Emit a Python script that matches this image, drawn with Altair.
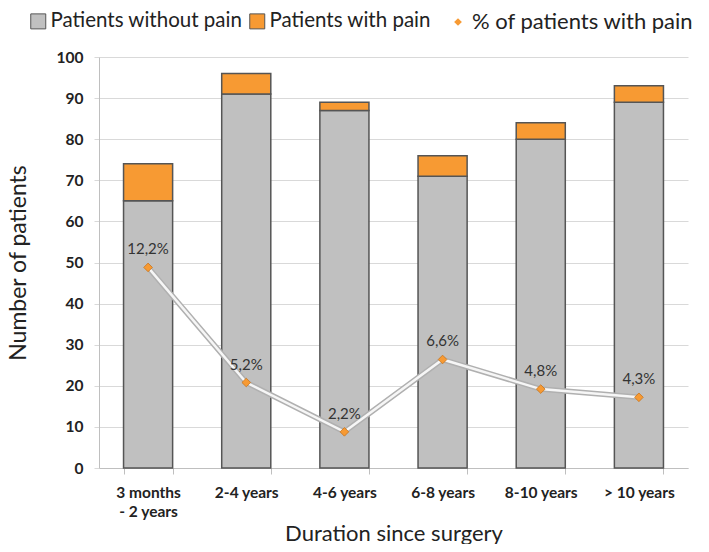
import altair as alt
import pandas as pd

categories = ["3 months - 2 years", "2-4 years", "4-6 years", "6-8 years", "8-10 years", "> 10 years"]
without_pain = [65, 91, 87, 71, 80, 89]
with_pain = [9, 5, 2, 5, 4, 4]
pct_pain = [12.2, 5.2, 2.2, 6.6, 4.8, 4.3]
pct_labels = ["12,2%", "5,2%", "2,2%", "6,6%", "4,8%", "4,3%"]

S1 = "Patients without pain"
S2 = "Patients with pain"
S3 = "% of patients with pain"
FONT = "Lato"

rows = []
for c, a, b in zip(categories, without_pain, with_pain):
    rows.append({"cat": c, "series": S1, "n": a, "ord": 0})
    rows.append({"cat": c, "series": S2, "n": b, "ord": 1})
bars_df = pd.DataFrame(rows)
line_df = pd.DataFrame({"cat": categories, "pct": pct_pain, "label": pct_labels, "series": [S3] * 6})

x_enc = alt.X(
    "cat:N",
    sort=categories,
    title="Duration since surgery",
    scale=alt.Scale(paddingInner=0.5, paddingOuter=0.25),
    axis=alt.Axis(
        labelAngle=0,
        labelFont=FONT,
        labelFontWeight="bold",
        labelFontSize=15.5,
        labelColor="#222222",
        labelPadding=11,
        labelLineHeight=19,
        labelExpr="datum.value == '3 months - 2 years' ? ['3 months', '- 2 years'] : datum.value",
        tickBand="extent",
        tickSize=6,
        tickColor="#bfbfbf",
        domainColor="#bfbfbf",
        titleFont=FONT,
        titleFontSize=22,
        titleFontWeight="normal",
        titleColor="#222222",
        titleBaseline="alphabetic",
        titleY=72,
        grid=False,
    ),
)

bars = alt.Chart(bars_df).mark_bar(stroke="#555555", strokeWidth=1.5).encode(
    x=x_enc,
    y=alt.Y(
        "n:Q",
        stack="zero",
        title="Number of patients",
        scale=alt.Scale(domain=[0, 100]),
        axis=alt.Axis(
            values=list(range(0, 101, 10)),
            labelFont=FONT,
            labelFontWeight="bold",
            labelFontSize=15.5,
            labelColor="#222222",
            labelPadding=11,
            tickSize=5,
            tickColor="#d9d9d9",
            domainColor="#bfbfbf",
            gridColor="#d9d9d9",
            titleFont=FONT,
            titleFontSize=23,
            titleFontWeight="normal",
            titleColor="#222222",
            titlePadding=26,
        ),
    ),
    color=alt.Color(
        "series:N",
        scale=alt.Scale(domain=[S1, S2], range=["#c0c0c0", "#f79a33"]),
        legend=alt.Legend(
            title=None,
            orient="none",
            legendX=-71,
            legendY=-46,
            direction="horizontal",
            symbolType="square",
            symbolSize=225,
            symbolStrokeColor="#555555",
            symbolStrokeWidth=1,
            labelFont=FONT,
            labelFontSize=20.5,
            labelColor="#222222",
            labelLimit=400,
            labelOffset=2,
            columnPadding=4,
        ),
    ),
    order=alt.Order("ord:Q", sort="ascending"),
)

y2 = alt.Y("pct:Q", scale=alt.Scale(domain=[0, 25]), axis=None)

line_shadow = alt.Chart(line_df).mark_line(color="#b0b0b0", strokeWidth=5.5).encode(
    x=alt.X("cat:N", sort=categories), y=y2
)
line_core = alt.Chart(line_df).mark_line(color="#f6f6f6", strokeWidth=2.5).encode(
    x=alt.X("cat:N", sort=categories), y=y2
)
points = alt.Chart(line_df).mark_point(
    shape="diamond", filled=True, size=75, stroke="#c8741c", strokeWidth=0.8, opacity=1
).encode(
    x=alt.X("cat:N", sort=categories),
    y=y2,
    color=alt.Color(
        "series:N",
        scale=alt.Scale(domain=[S3], range=["#f79a33"]),
        legend=alt.Legend(
            title=None,
            orient="none",
            legendX=348,
            legendY=-46,
            symbolType="diamond",
            symbolSize=60,
            symbolStrokeWidth=0,
            labelFont=FONT,
            labelFontSize=22,
            labelColor="#222222",
            labelLimit=400,
            labelOffset=3,
        ),
    ),
)
texts = alt.Chart(line_df).mark_text(
    font=FONT, fontSize=15, color="#333333", baseline="bottom", dy=-10
).encode(x=alt.X("cat:N", sort=categories), y=y2, text="label:N")

chart = (
    alt.layer(bars, line_shadow, line_core, points, texts)
    .resolve_scale(y="independent", color="independent")
    .properties(
        width=589,
        height=411,
        padding={"left": 91, "top": 49, "right": 13, "bottom": 76},
        autosize=alt.AutoSizeParams(type="none"),
    )
    .configure_view(stroke=None)
    .configure_axis(gridColor="#d9d9d9")
)

chart.save("out.html", embed_options={"renderer": "svg", "actions": False})
